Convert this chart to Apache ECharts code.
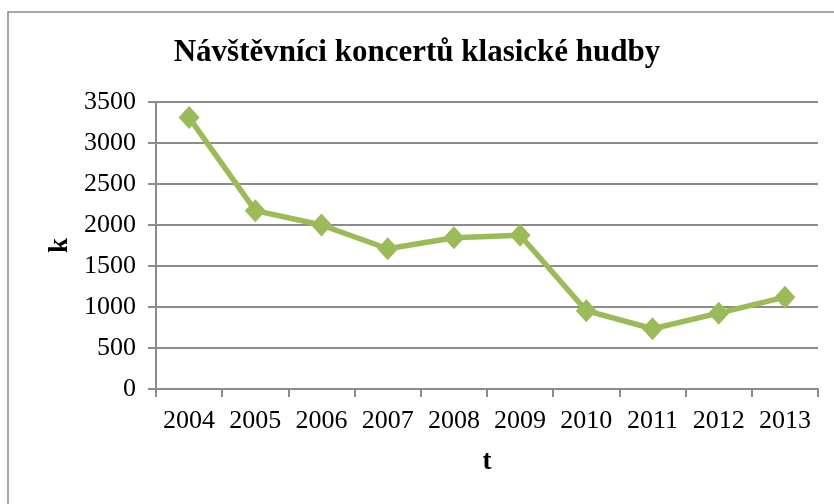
<!DOCTYPE html>
<html>
<head>
<meta charset="utf-8">
<script src="https://cdn.jsdelivr.net/npm/echarts@6/dist/echarts.min.js"></script>
<style>
html,body{margin:0;padding:0;background:#fff;}
#chart{width:834px;height:504px;}
</style>
</head>
<body>
<div id="chart"></div>
<script>
var years = ['2004','2005','2006','2007','2008','2009','2010','2011','2012','2013'];
var visitors = [3310, 2175, 2000, 1710, 1845, 1875, 955, 735, 925, 1120];
var yTicks = {min: 0, max: 3500, step: 500};

var serif = '"Liberation Serif", "Times New Roman", serif';
var myChart = echarts.init(document.getElementById('chart'));
var option = {
	backgroundColor: '#fff',
	animation: false,
	graphic: [{
		type: 'rect',
		shape: {x: 8, y: 12, width: 840, height: 500},
		style: {fill: 'none', stroke: '#8a8a8a', lineWidth: 1.5},
		silent: true
	}],
	title: {
		text: 'Návštěvníci koncertů klasické hudby',
		left: 'center',
		top: 32,
		textStyle: {fontFamily: serif, fontWeight: 'bold', fontSize: 31, color: '#000'}
	},
	grid: {left: 156, right: 16, top: 102, bottom: 115},
	xAxis: {
		type: 'category',
		data: years,
		boundaryGap: true,
		name: 't',
		nameLocation: 'middle',
		nameGap: 60,
		nameTextStyle: {fontFamily: serif, fontWeight: 'bold', fontSize: 27, color: '#000'},
		axisLine: {lineStyle: {color: '#8c8c8c', width: 2}},
		axisTick: {show: true, length: 8, lineStyle: {color: '#8c8c8c', width: 2}, alignWithLabel: false},
		axisLabel: {fontFamily: serif, fontSize: 26, color: '#000', margin: 19, interval: 0, hideOverlap: false}
	},
	yAxis: {
		type: 'value',
		min: yTicks.min,
		max: yTicks.max,
		interval: yTicks.step,
		name: 'k',
		nameLocation: 'middle',
		nameGap: 82,
		nameRotate: 90,
		nameTextStyle: {fontFamily: serif, fontWeight: 'bold', fontSize: 27, color: '#000'},
		axisLine: {show: true, lineStyle: {color: '#8c8c8c', width: 2}},
		axisTick: {show: true, length: 8, lineStyle: {color: '#8c8c8c', width: 2}},
		axisLabel: {fontFamily: serif, fontSize: 26, color: '#000', margin: 20, formatter: function(v){ return String(v); }},
		splitLine: {lineStyle: {color: '#8c8c8c', width: 2}}
	},
	series: [{
		type: 'line',
		data: visitors,
		symbol: 'diamond',
		symbolSize: [21, 23],
		lineStyle: {color: '#9bbb59', width: 5.5},
		itemStyle: {color: '#9bbb59'}
	}]
};
myChart.setOption(option);
</script>
</body>
</html>
